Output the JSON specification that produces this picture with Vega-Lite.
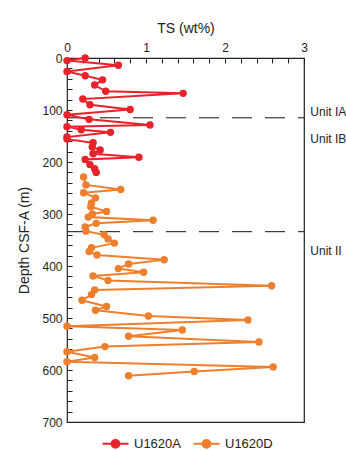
{
  "$schema": "https://vega.github.io/schema/vega-lite/v6.json",
  "autosize": "none",
  "width": 237,
  "height": 364,
  "padding": {"left": 67, "top": 58, "right": 42, "bottom": 28},
  "background": "white",
  "view": {"stroke": "#222", "strokeWidth": 1.2, "fill": null},
  "config": {
    "font": "Liberation Sans",
    "axis": {"domainColor": "#222", "tickColor": "#222", "labelColor": "#222", "titleColor": "#222", "labelFontSize": 12, "titleFontSize": 14, "titleFontWeight": "normal", "grid": false, "labelOverlap": false, "labelFlush": false}
  },
  "datasets": {
    "ts": [
      {"site": "U1620A", "depth": 0, "ts": 0.23},
      {"site": "U1620A", "depth": 5, "ts": 0},
      {"site": "U1620A", "depth": 14, "ts": 0.65},
      {"site": "U1620A", "depth": 26, "ts": 0},
      {"site": "U1620A", "depth": 34, "ts": 0.23},
      {"site": "U1620A", "depth": 42, "ts": 0.45},
      {"site": "U1620A", "depth": 52, "ts": 0.35},
      {"site": "U1620A", "depth": 64, "ts": 0.49},
      {"site": "U1620A", "depth": 68, "ts": 1.47},
      {"site": "U1620A", "depth": 79, "ts": 0.2},
      {"site": "U1620A", "depth": 90, "ts": 0.29},
      {"site": "U1620A", "depth": 99, "ts": 0.8},
      {"site": "U1620A", "depth": 109, "ts": 0},
      {"site": "U1620A", "depth": 118, "ts": 0.28},
      {"site": "U1620A", "depth": 129, "ts": 1.05},
      {"site": "U1620A", "depth": 132, "ts": 0},
      {"site": "U1620A", "depth": 138, "ts": 0.18},
      {"site": "U1620A", "depth": 143, "ts": 0.55},
      {"site": "U1620A", "depth": 152, "ts": 0},
      {"site": "U1620A", "depth": 156, "ts": 0},
      {"site": "U1620A", "depth": 163, "ts": 0.33},
      {"site": "U1620A", "depth": 171, "ts": 0.32},
      {"site": "U1620A", "depth": 177, "ts": 0.42},
      {"site": "U1620A", "depth": 184, "ts": 0.33},
      {"site": "U1620A", "depth": 191, "ts": 0.91},
      {"site": "U1620A", "depth": 195, "ts": 0.23},
      {"site": "U1620A", "depth": 205, "ts": 0.29},
      {"site": "U1620A", "depth": 213, "ts": 0.35},
      {"site": "U1620A", "depth": 220, "ts": 0.37},
      {"site": "U1620D", "depth": 229, "ts": 0.21},
      {"site": "U1620D", "depth": 244, "ts": 0.24},
      {"site": "U1620D", "depth": 253, "ts": 0.68},
      {"site": "U1620D", "depth": 259, "ts": 0.21},
      {"site": "U1620D", "depth": 269, "ts": 0.36},
      {"site": "U1620D", "depth": 279, "ts": 0.31},
      {"site": "U1620D", "depth": 286, "ts": 0.3},
      {"site": "U1620D", "depth": 295, "ts": 0.5},
      {"site": "U1620D", "depth": 300, "ts": 0.32},
      {"site": "U1620D", "depth": 306, "ts": 0.27},
      {"site": "U1620D", "depth": 312, "ts": 1.09},
      {"site": "U1620D", "depth": 318, "ts": 0.37},
      {"site": "U1620D", "depth": 325, "ts": 0.23},
      {"site": "U1620D", "depth": 333, "ts": 0.24},
      {"site": "U1620D", "depth": 340, "ts": 0.47},
      {"site": "U1620D", "depth": 348, "ts": 0.52},
      {"site": "U1620D", "depth": 356, "ts": 0.6},
      {"site": "U1620D", "depth": 365, "ts": 0.31},
      {"site": "U1620D", "depth": 372, "ts": 0.28},
      {"site": "U1620D", "depth": 379, "ts": 0.38},
      {"site": "U1620D", "depth": 388, "ts": 1.23},
      {"site": "U1620D", "depth": 396, "ts": 0.78},
      {"site": "U1620D", "depth": 405, "ts": 0.65},
      {"site": "U1620D", "depth": 412, "ts": 0.97},
      {"site": "U1620D", "depth": 419, "ts": 0.33},
      {"site": "U1620D", "depth": 428, "ts": 0.52},
      {"site": "U1620D", "depth": 438, "ts": 2.59},
      {"site": "U1620D", "depth": 446, "ts": 0.35},
      {"site": "U1620D", "depth": 455, "ts": 0.31},
      {"site": "U1620D", "depth": 466, "ts": 0.19},
      {"site": "U1620D", "depth": 478, "ts": 0.5},
      {"site": "U1620D", "depth": 485, "ts": 0.36},
      {"site": "U1620D", "depth": 496, "ts": 1.03},
      {"site": "U1620D", "depth": 504, "ts": 2.29},
      {"site": "U1620D", "depth": 516, "ts": 0},
      {"site": "U1620D", "depth": 523, "ts": 1.46},
      {"site": "U1620D", "depth": 535, "ts": 0.78},
      {"site": "U1620D", "depth": 546, "ts": 2.43},
      {"site": "U1620D", "depth": 555, "ts": 0.48},
      {"site": "U1620D", "depth": 565, "ts": 0},
      {"site": "U1620D", "depth": 576, "ts": 0.35},
      {"site": "U1620D", "depth": 584, "ts": 0},
      {"site": "U1620D", "depth": 594, "ts": 2.61},
      {"site": "U1620D", "depth": 603, "ts": 1.61},
      {"site": "U1620D", "depth": 611, "ts": 0.78}
    ],
    "bounds": [{"depth": 115, "ts": 0, "ts_end": 3}, {"depth": 334, "ts": 0, "ts_end": 3}],
    "units": [
      {"label": "Unit IA", "depth": 104, "ts": 3.08},
      {"label": "Unit IB", "depth": 155, "ts": 3.08},
      {"label": "Unit II", "depth": 371, "ts": 3.08}
    ]
  },
  "encoding": {
    "y": {
      "field": "depth", "type": "quantitative",
      "scale": {"domain": [0, 700], "reverse": true, "nice": false, "zero": false},
      "axis": {
        "title": "Depth CSF-A (m)", "orient": "left",
        "values": [0,20,40,60,80,100,120,140,160,180,200,220,240,260,280,300,320,340,360,380,400,420,440,460,480,500,520,540,560,580,600,620,640,660,680,700],
        "labelExpr": "datum.value % 100 === 0 ? datum.label : ''",
        "labelOverlap": false,
        "domain": false, "offset": -5, "ticks": true, "tickSize": 5, "tickWidth": 1,
        "labelPadding": 5, "titlePadding": 10
      }
    },
    "x": {
      "field": "ts", "type": "quantitative",
      "scale": {"domain": [0, 3], "nice": false, "zero": false},
      "axis": {
        "title": "TS (wt%)", "orient": "top",
        "values": [0,0.2,0.4,0.6,0.8,1,1.2,1.4,1.6,1.8,2,2.2,2.4,2.6,2.8,3],
        "labelExpr": "datum.value % 1 === 0 ? format(datum.value, 'd') : ''",
        "labelOverlap": false,
        "domain": false, "offset": -5, "ticks": true, "tickSize": 5, "tickWidth": 1,
        "labelPadding": 4, "titlePadding": 6
      }
    }
  },
  "layer": [
    {
      "data": {"name": "bounds"},
      "mark": {"type": "rule", "strokeDash": [20, 13], "color": "#111", "strokeWidth": 1},
      "encoding": {"x2": {"field": "ts_end"}}
    },
    {
      "data": {"name": "ts"},
      "mark": {"type": "line", "strokeWidth": 2},
      "encoding": {
        "order": {"field": "depth", "type": "quantitative"},
        "color": {
          "field": "site", "type": "nominal",
          "scale": {"domain": ["U1620A", "U1620D"], "range": ["#E8222B", "#EE7F2D"]},
          "legend": {
            "title": null, "orient": "none", "direction": "horizontal",
            "legendX": 41, "legendY": 378, "padding": 0,
            "symbolType": "M-2,0H2M-0.6,0a0.6,0.6 0 1,0 1.2,0a0.6,0.6 0 1,0 -1.2,0",
            "symbolSize": 169, "symbolStrokeWidth": 2,
            "labelFontSize": 13, "labelColor": "#222", "labelOffset": 11, "columnPadding": 8,
            "encode": {"symbols": {"update": {"fill": {"scale": "color", "field": "value"}, "stroke": {"scale": "color", "field": "value"}, "opacity": {"value": 1}}}}
          }
        }
      }
    },
    {
      "data": {"name": "ts"},
      "mark": {"type": "point", "filled": true, "size": 55, "opacity": 1},
      "encoding": {
        "color": {"field": "site", "type": "nominal"}
      }
    },
    {
      "data": {"name": "units"},
      "mark": {"type": "text", "align": "left", "baseline": "middle", "fontSize": 12, "color": "#222"},
      "encoding": {
        "text": {"field": "label"}
      }
    }
  ]
}
